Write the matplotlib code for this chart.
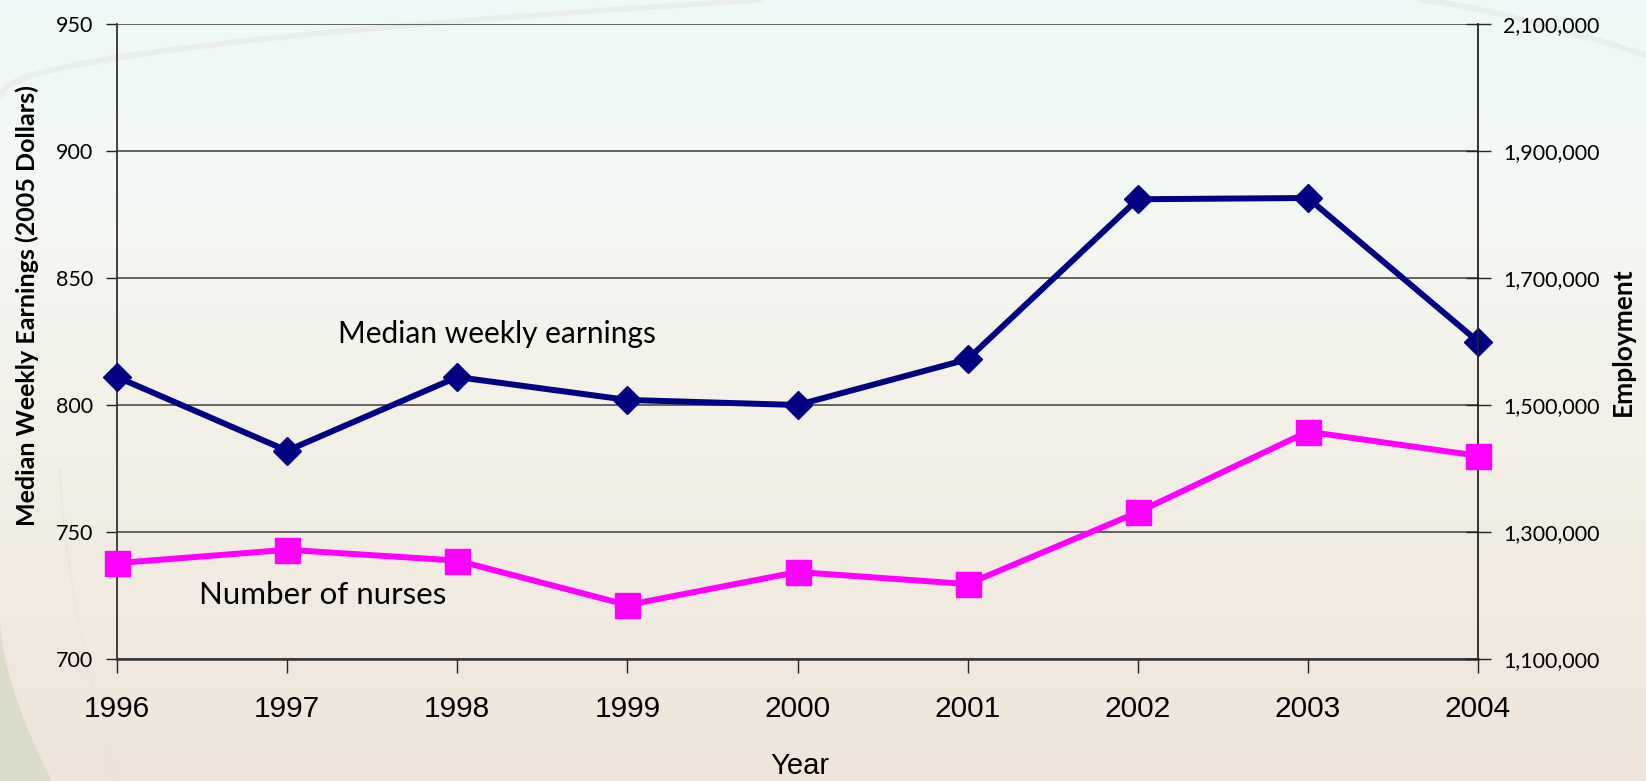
import numpy as np
import matplotlib.pyplot as plt
from matplotlib.ticker import FuncFormatter
from matplotlib.patches import Polygon
from matplotlib.colors import LinearSegmentedColormap

years = [1996, 1997, 1998, 1999, 2000, 2001, 2002, 2003, 2004]
earnings = [811, 782, 811, 802, 800, 818, 881, 881.5, 825]
nurses = [1251000, 1272000, 1255000, 1185000, 1237000, 1218000, 1331000, 1458000, 1420000]
earn_ticks = [700, 750, 800, 850, 900, 950]
nurse_ticks = [1100000, 1300000, 1500000, 1700000, 1900000, 2100000]

W, H = 1646, 781
fig = plt.figure(figsize=(W / 100, H / 100), dpi=100)

# soft slide-style background
bg = fig.add_axes([0, 0, 1, 1], zorder=-10)
bg.set_xlim(0, W)
bg.set_ylim(H, 0)
bg.axis('off')
cmap = LinearSegmentedColormap.from_list(
    'bg', [(0.0, '#eef8f8'), (0.25, '#f3f8f4'), (0.55, '#f3f0e7'), (1.0, '#efe5da')])
grad = np.linspace(0, 1, 256).reshape(-1, 1)
bg.imshow(grad, cmap=cmap, extent=[0, W, H, 0], aspect='auto')
t = np.linspace(0, 1, 50)
corner_x = np.concatenate([[0], 52 * t ** 1.6, [0]])
corner_y = np.concatenate([[620], 620 + 161 * t, [H]])
bg.add_patch(Polygon(np.column_stack([corner_x, corner_y]), closed=True,
                     fc='#dcdccb', ec='none'))
bg.plot(60 + 55 * t ** 1.5, 470 + 311 * t, color='#ebe7df', lw=1.5)
arc_x = np.linspace(0, 760, 100)
bg.plot(arc_x, 95 - 95 * np.sqrt(arc_x / 760), color='#e9eeeb', lw=4)
arc_x2 = np.linspace(1420, W, 50)
bg.plot(arc_x2, 0 + 55 * ((arc_x2 - 1420) / 226) ** 1.3, color='#e9eeeb', lw=4)

tick_font = 'Lato'
ax = fig.add_axes([117 / W, 1 - 659 / H, (1478 - 117) / W, (659 - 24) / H])
ax.patch.set_alpha(0)
ax2 = ax.twinx()

ax.set_xlim(1996, 2004)
ax.set_ylim(700, 950)
ax2.set_ylim(1100000, 2100000)

ax.set_yticks(earn_ticks)
ax2.set_yticks(nurse_ticks)
ax.set_xticks(years)
ax.set_xticklabels([str(y) for y in years], family='Liberation Sans', fontsize=21.5)
ax.set_yticklabels([str(v) for v in earn_ticks], family=tick_font, fontsize=15.5)
ax2.yaxis.set_major_formatter(FuncFormatter(lambda v, p: f'{int(v):,}'))
for lab in ax2.get_yticklabels():
    lab.set_family(tick_font)
    lab.set_fontsize(15.5)

ax.yaxis.grid(True, color='#3c3c3c', lw=1.1)
ax.set_axisbelow(True)
ax.tick_params(axis='y', direction='out', length=8, width=1, pad=9, colors='#222222')
ax.tick_params(axis='x', direction='out', length=10, width=1, pad=16, colors='#222222')
ax2.tick_params(axis='y', direction='inout', length=18, width=1, pad=9, colors='#222222')
for a in (ax, ax2):
    a.spines['top'].set_visible(False)
    for lab in a.get_yticklabels() + a.get_xticklabels():
        lab.set_color('black')
ax.spines['left'].set_color('#333333')
ax.spines['left'].set_linewidth(1.3)
ax.spines['bottom'].set_color('#333333')
ax.spines['bottom'].set_linewidth(1.8)
ax.spines['right'].set_visible(False)
ax2.spines['left'].set_visible(False)
ax2.spines['bottom'].set_visible(False)
ax2.spines['right'].set_color('#222222')
ax2.spines['right'].set_linewidth(1.3)

ax.plot(years, earnings, color='#000080', lw=4.3, marker='D', ms=14,
        mfc='#000080', mec='#000080', clip_on=False, zorder=5)
ax2.plot(years, nurses, color='#ff00ff', lw=4.3, marker='s', ms=18,
         mfc='#ff00ff', mec='#ff00ff', clip_on=False, zorder=5)

fig.text(338 / W, 1 - 334 / H, 'Median weekly earnings', family=tick_font,
         fontsize=21.5, ha='left', va='center')
fig.text(199 / W, 1 - 595 / H, 'Number of nurses', family=tick_font,
         fontsize=22.5, ha='left', va='center')
fig.text(800 / W, 1 - 766 / H, 'Year', family='Liberation Sans',
         fontsize=21, ha='center', va='center')
fig.text(27 / W, 1 - 306 / H, 'Median Weekly Earnings (2005 Dollars)', family=tick_font,
         fontweight='bold', fontsize=18, rotation=90, ha='center', va='center')
fig.text(1623 / W, 1 - 342 / H, 'Employment', family=tick_font,
         fontweight='bold', fontsize=19, rotation=90, ha='center', va='center')

fig.savefig('out.png', dpi=100)
